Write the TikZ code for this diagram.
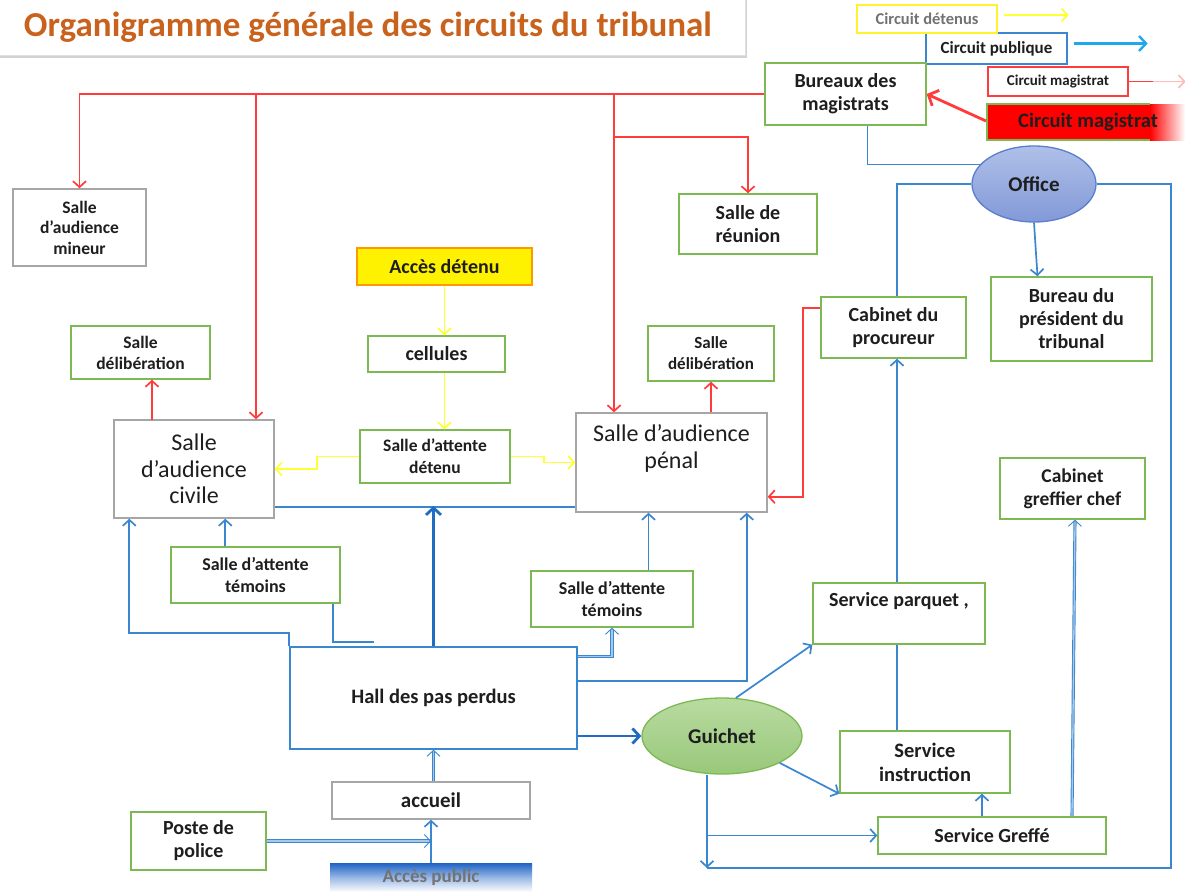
\documentclass[tikz,border=0pt]{standalone}
\usepackage{fontspec}
\setmainfont{Carlito}
\usetikzlibrary{arrows.meta,shadows,calc,shapes.geometric}
\definecolor{gframe}{HTML}{7DB952}
\definecolor{grframe}{HTML}{A6A6A6}
\definecolor{rline}{HTML}{FF3B3B}
\definecolor{bline}{HTML}{3A86CF}
\definecolor{bdark}{HTML}{1F6CC2}
\definecolor{yline}{HTML}{FFFF33}
\definecolor{txt}{HTML}{1E1E1E}
\definecolor{titleorange}{HTML}{C9621C}
\definecolor{legblue}{HTML}{1FA8EC}
\definecolor{offtop}{HTML}{AFC0E8}
\definecolor{offbot}{HTML}{8299D8}
\definecolor{offdraw}{HTML}{5A7ECB}
\definecolor{guitop}{HTML}{B9DBA1}
\definecolor{guibot}{HTML}{98C87A}
\definecolor{pubtop}{HTML}{1E62C4}
\newcommand{\fsz}[2]{\fontsize{#1}{#2}\selectfont}

\begin{document}
\begin{tikzpicture}[x=1pt,y=-1pt,
  cbox/.style={draw, line width=1.4pt, fill=white, align=center, inner sep=1pt,
               text=txt, font=\bfseries\fsz{20}{23}},
  gbox/.style={cbox, draw=gframe},
  nbox/.style={cbox, draw=grframe},
  wire/.style={line width=1.7pt},
  rl/.style={wire, draw=rline},
  bl/.style={wire, draw=bline},
  yl/.style={wire, draw=yline},
  arr/.style={-{Straight Barb[length=6pt,width=13pt]}},
  dbl/.style={draw=bline, line width=0.9pt, double=bline!45, double distance=1.3pt},
]
\useasboundingbox (0,0) rectangle (1185,891);
\fill[white] (0,0) rectangle (1185,891);

% ---------- title ----------
\node[draw=black!12, fill=white, minimum width=760pt, minimum height=60pt,
      drop shadow={shadow xshift=1.5pt, shadow yshift=-3pt, opacity=0.35}] (titlebox) at (365,25) {};
\node[text=titleorange, font=\bfseries\fsz{35}{40}] (title) at (368,27)
  {Organigramme générale des circuits du tribunal};

% ---------- legend ----------
\node[cbox, draw=bline, line width=1.3pt, minimum width=141pt, minimum height=31pt,
      font=\bfseries\fsz{17}{20}] (legPub) at (996.5,48.5) {Circuit publique};
\node[cbox, draw=yline!90!orange, line width=1.3pt, minimum width=140pt, minimum height=28pt,
      text=black!55, font=\bfseries\fsz{16.5}{19}] (legDet) at (927,19) {Circuit détenus};
\node[cbox, draw=rline, line width=1.3pt, minimum width=140pt, minimum height=29pt,
      font=\bfseries\fsz{15}{18}] (legMag) at (1058,81.5) {Circuit magistrat};
\draw[yl, arr] ($(legDet.east)+(6,-4)$) -- ++(65,0);
\draw[wire, draw=legblue, line width=2.4pt, -{Straight Barb[length=7pt,width=15pt]}]
  ($(legPub.east)+(6,-5)$) -- ++(74,0);
\draw[rl] (legMag.east) -- ++(24,0) coordinate (lm1);
\draw[wire, draw=rline!35, -{Straight Barb[length=6pt,width=13pt]}] (lm1) -- ++(33,0);

% big magistrate legend block
\fill[red] (987,104) rectangle (1150,140);
\shade[left color=red, right color=white] (1150,104) rectangle (1185,140);
\draw[gframe, line width=1.4pt] (1150,104) -- (987,104) -- (987,140) -- (1150,140);
\node[text=txt, font=\bfseries\fsz{20.5}{24}] (bigMag) at (1088,122) {Circuit magistrat};
\coordinate (bigMagW) at (986,121);

% ---------- boxes ----------
\node[gbox, minimum width=161pt, minimum height=62pt] (bur) at (845.5,94) {Bureaux des\\magistrats};
\node[nbox, minimum width=133pt, minimum height=77pt, font=\bfseries\fsz{17.5}{20.5}] (mineur) at (79.5,227.5) {Salle\\d’audience\\mineur};
\node[gbox, minimum width=138pt, minimum height=60pt] (reunion) at (748,224) {Salle de\\réunion};
\node[cbox, draw=orange!80!yellow, fill=yellow, minimum width=175pt, minimum height=37pt] (acces) at (444.5,266.5) {Accès détenu};
\node[ellipse, draw=offdraw, line width=1.3pt, top color=offtop, bottom color=offbot,
      minimum width=124pt, minimum height=76pt, text=txt, font=\bfseries\fsz{21}{24}] (office) at (1034,184) {Office};
\node[gbox, minimum width=161pt, minimum height=84pt] (presid) at (1071.5,319) {Bureau du\\président du\\tribunal};
\node[gbox, minimum width=145pt, minimum height=61pt] (cabproc) at (893.5,327.5) {Cabinet du\\procureur};
\node[gbox, minimum width=139pt, minimum height=53pt, font=\bfseries\fsz{17.5}{21}] (delibL) at (140.5,352.5) {Salle\\délibération};
\node[gbox, minimum width=126pt, minimum height=55pt, font=\bfseries\fsz{17}{21}] (delibR) at (711,353.5) {Salle\\délibération};
\node[gbox, minimum width=137pt, minimum height=36pt] (cellules) at (436.5,354) {cellules};
\node[nbox, minimum width=160pt, minimum height=98pt, font=\fsz{24}{26.5}] (civ) at (194,469) {Salle\\d’audience\\civile};
\node[gbox, minimum width=150pt, minimum height=53pt, font=\bfseries\fsz{17.5}{22}] (detenu) at (435,456.5) {Salle d’attente\\détenu};
\node[nbox, minimum width=191pt, minimum height=99pt] (penal) at (671.5,462.5) {};
\node[text=txt, align=center, font=\fsz{24}{27}] (penalT) at (671.5,448) {Salle d’audience\\pénal};
\node[gbox, minimum width=145pt, minimum height=61pt, font=\bfseries\fsz{19.5}{23}] (greffier) at (1072.5,488.5) {Cabinet\\greffier chef};
\node[gbox, minimum width=169pt, minimum height=56pt, font=\bfseries\fsz{18}{22}] (temL) at (255.5,575) {Salle d’attente\\témoins};
\node[gbox, minimum width=162pt, minimum height=56pt, font=\bfseries\fsz{18}{22}] (temR) at (612,599) {Salle d’attente\\témoins};
\node[gbox, minimum width=172pt, minimum height=61pt] (parquet) at (899,613.5) {};
\node[text=txt, font=\bfseries\fsz{20}{23}] (parquetT) at (899,601) {Service parquet ,};
\node[cbox, draw=bline, line width=1.4pt, minimum width=287pt, minimum height=102pt, font=\bfseries\fsz{20.5}{23}] (hall) at (433.5,698) {Hall des pas perdus};
\node[ellipse, draw=gframe, line width=1.3pt, top color=guitop, bottom color=guibot,
      minimum width=160pt, minimum height=76pt, text=txt, font=\bfseries\fsz{21}{24}] (guichet) at (722,736) {Guichet};
\node[gbox, minimum width=170pt, minimum height=62pt, font=\bfseries\fsz{20.5}{24}] (instr) at (925,762) {Service\\instruction};
\node[nbox, minimum width=198pt, minimum height=37pt, font=\bfseries\fsz{21}{24}] (accueil) at (431,800.5) {accueil};
\node[gbox, minimum width=135pt, minimum height=58pt] (police) at (198.5,841) {Poste de\\police};
\node[gbox, minimum width=228pt, minimum height=37pt] (greffe) at (992,835.5) {Service Greffé};
\shade[top color=pubtop, bottom color=white, middle color=pubtop!45] (330,863) rectangle (532,892);
\node[text=black!55, font=\bfseries\fsz{19}{22}] (apublic) at (431,877) {Accès public};
\coordinate (apubN) at (431,863);

% ---------- magistrate circuit (red) ----------
\draw[rl, arr] (bur.west) -| (mineur.north);
\coordinate (rA) at (256,94);
\coordinate (rB) at (614,94);
\coordinate (rC) at (614,137);
\draw[rl, arr] (rA) -- (rA |- civ.north);
\draw[rl, arr] (rB) -- (rB |- penal.north);
\draw[rl, arr] (rC) -| (reunion.north);
\coordinate (rD) at (152,420);
\draw[rl, arr] (rD) -- (rD |- delibL.south);
\draw[rl, arr] (penal.north -| delibR.south) -- (delibR.south);
\coordinate (rE) at (803,308);
\draw[rl, arr] (rE -| cabproc.west) -- (rE) |- ($(penal.south east)+(0,-16)$);
\draw[rline, line width=2.8pt, -{Straight Barb[length=8pt,width=17pt]}] (bigMagW) -- (bur.east);

% ---------- detainee circuit (yellow) ----------
\draw[yl, arr] (acces.south) -- (acces.south |- cellules.north);
\draw[yl, arr] (cellules.south -| acces.south) -- (acces.south |- detenu.north);
\draw[yl, arr] (detenu.west) -- ++(-42,0) |- (civ.east);
\draw[yl, arr] (detenu.east) -- ++(33,0) |- (penal.west);

% ---------- public circuit (blue) ----------
\coordinate (bMid) at (433.5,506);
\draw[bl] ($(civ.south east)+(0,-12)$) -- ($(penal.south west)+(0,-6)$);
\draw[bdark, line width=2.8pt, -{Straight Barb[length=7pt,width=15pt]}] (hall.north) -- (bMid);
\draw[bl, arr] (hall.north west) -- ++(0,-13) -| ($(civ.south west)+(16,0)$);
\draw[bl, arr] ($(temL.north west)+(55,0)$) -- ($(civ.south west)+(112,0)$);
\coordinate (stub) at (374,642);
\draw[bl] ($(temL.south east)+(-8,0)$) |- (stub);
\draw[dbl, arr] ($(hall.north east)+(0,10)$) -| (temR.south);
\coordinate (pT) at ($(penal.south)+(-23,0)$);
\draw[bl, arr] (temR.north -| pT) -- (pT);
\coordinate (pU) at ($(penal.south east)+(-21,0)$);
\draw[bl, arr] ($(hall.north east)+(0,35)$) -| (pU);
\draw[bdark, line width=2.8pt, -{Straight Barb[length=7pt,width=15pt]}] (hall.east |- guichet.west) -- (guichet.west);
\draw[dbl, arr] (accueil.north -| hall.south) -- (hall.south);
\draw[bl, arr] (apubN) -- (accueil.south);
\draw[dbl, arr] (police.east) -- (police.east -| apubN);

% office and services
\coordinate (bj) at ($(bur.south)+(22,0)$);
\draw[bl] (bj) |- (office.160);
\coordinate (cpN) at ($(cabproc.north)+(3.5,0)$);
\coordinate (cpS) at ($(cabproc.south)+(3.5,0)$);
\draw[bl] (office.west) -| (cpN);
\draw[bl, arr] (office.south) -- ($(presid.north)+(-34,0)$);
\coordinate (loopC) at (1171,868);
\coordinate (gB) at (707,868);
\draw[bl] (office.east) -| (loopC) -- (gB);
\draw[bl, arr] (guichet.south -| gB) -- (gB);
\draw[bl, arr] (gB |- greffe.west) -- (greffe.west);
\draw[bl, arr] (guichet.70) -- (parquet.south west);
\draw[bl, arr] (guichet.-25) -- (instr.south west);
\draw[bl, arr] (parquet.north -| cpS) -- (cpS);
\draw[bl] (parquet.south -| cpS) -- (instr.north -| cpS);
\coordinate (gi) at ($(greffe.north)+(-10,0)$);
\draw[bl, arr] (gi) -- (gi |- instr.south);
\draw[dbl, arr] ($(greffe.north)+(80,0)$) -- ($(greffier.south)+(2.5,0)$);
\end{tikzpicture}
\end{document}
